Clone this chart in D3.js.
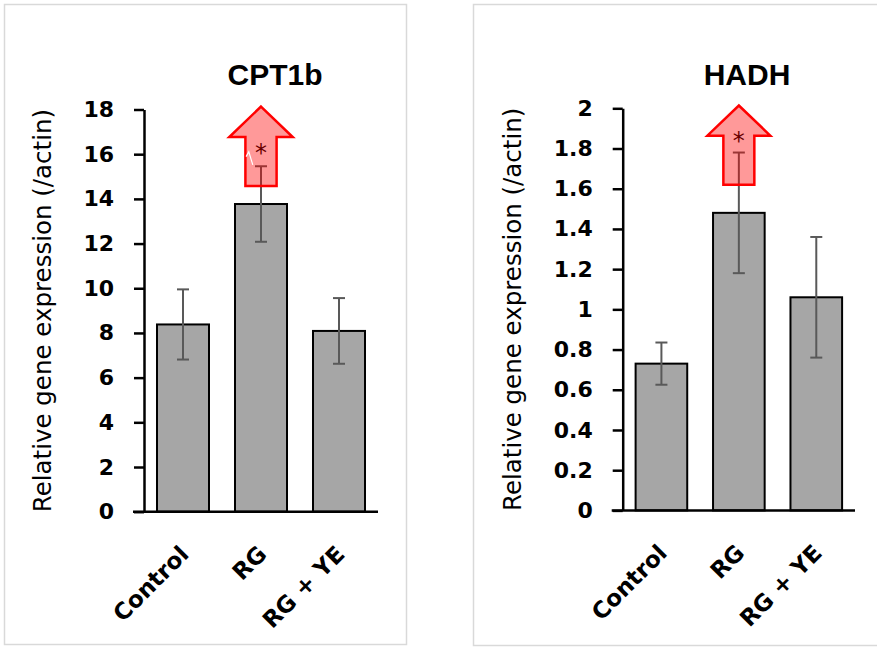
<!DOCTYPE html>
<html>
<head>
<meta charset="utf-8">
<script src="https://cdn.jsdelivr.net/npm/d3@7/dist/d3.min.js"></script>
<style>
  html, body { margin: 0; padding: 0; background: #fff; }
  svg { display: block; }
</style>
</head>
<body>
<svg id="chart" width="877" height="648"></svg>
<script>
// Groups shared by both panels
const categories = ["Control", "RG", "RG + YE"];

// CPT1b: mean relative expression and error (±)
const cpt1bMean = [8.38, 13.77, 8.09];
const cpt1bErr  = [1.57, 1.69, 1.47];
const cpt1bTicks = [0, 2, 4, 6, 8, 10, 12, 14, 16, 18];
const cpt1bTickLabels = ["0", "2", "4", "6", "8", "10", "12", "14", "16", "18"];

// HADH: mean relative expression and error (±)
const hadhMean = [0.73, 1.48, 1.06];
const hadhErr  = [0.105, 0.30, 0.30];
const hadhTicks = [0, 0.2, 0.4, 0.6, 0.8, 1, 1.2, 1.4, 1.6, 1.8, 2];
const hadhTickLabels = ["0", "0.2", "0.4", "0.6", "0.8", "1", "1.2", "1.4", "1.6", "1.8", "2"];

// Up-arrow callouts on the RG group: [tip, head base, tail] in axis units, plus star level
const cpt1bArrow = [18.13, 16.77, 14.58];
const cpt1bStar = 16.27;
const hadhArrow = [2.014, 1.864, 1.62];
const hadhStar = 1.859;

const yLabel = "Relative gene expression (/actin)";

const svg = d3.select("#chart");
svg.append("rect").attr("width", 877).attr("height", 648).attr("fill", "#fff");

// light panel frames
svg.append("rect").attr("x", 4.5).attr("y", 4.5).attr("width", 402).attr("height", 640)
  .attr("fill", "none").attr("stroke", "#d9d9d9").attr("stroke-width", 1.5);
svg.append("rect").attr("x", 473.5).attr("y", 4.5).attr("width", 420).attr("height", 641)
  .attr("fill", "none").attr("stroke", "#d9d9d9").attr("stroke-width", 1.5);

function drawPanel(p) {
  const g = svg.append("g");
  const y = d3.scaleLinear().domain([0, p.max]).range([p.bottom, p.top]);
  const x = d3.scaleBand().domain(categories).range([p.axisX, p.xEnd])
    .paddingInner(1 / 3).paddingOuter(1 / 6);
  const bw = x.bandwidth();
  const cx = c => x(c) + bw / 2;

  // bars
  g.selectAll("rect.bar").data(categories).join("rect")
    .attr("class", "bar")
    .attr("x", c => x(c))
    .attr("width", bw)
    .attr("y", (c, i) => y(p.mean[i]))
    .attr("height", (c, i) => y(0) - y(p.mean[i]))
    .attr("fill", "#a6a6a6")
    .attr("stroke", "#000")
    .attr("stroke-width", 2);

  // error bars
  const eb = g.selectAll("g.err").data(categories).join("g").attr("class", "err")
    .attr("stroke", "#595959").attr("stroke-width", 2);
  eb.append("line")
    .attr("x1", c => cx(c)).attr("x2", c => cx(c))
    .attr("y1", (c, i) => y(p.mean[i] - p.err[i]))
    .attr("y2", (c, i) => y(p.mean[i] + p.err[i]));
  [-1, 1].forEach(s => {
    eb.append("line")
      .attr("x1", c => cx(c) - 6).attr("x2", c => cx(c) + 6)
      .attr("y1", (c, i) => y(p.mean[i] + s * p.err[i]))
      .attr("y2", (c, i) => y(p.mean[i] + s * p.err[i]));
  });

  // significance star (sits under the translucent arrow)
  const ac = cx("RG");
  g.append("text")
    .attr("x", ac).attr("y", y(p.star) + 12.5)
    .attr("text-anchor", "middle")
    .attr("font-family", "DejaVu Sans")
    .attr("font-size", 24)
    .attr("fill", "#000")
    .text("*");

  // translucent up arrow
  const [tip, base, tail] = p.arrow;
  const hw = bw * 0.61, sw = bw * 0.30;
  const pts = [
    [ac, y(tip)], [ac + hw, y(base)], [ac + sw, y(base)], [ac + sw, y(tail)],
    [ac - sw, y(tail)], [ac - sw, y(base)], [ac - hw, y(base)]
  ];
  g.append("path")
    .attr("d", d3.line()(pts) + "Z")
    .attr("fill", "rgba(255,0,0,0.4)")
    .attr("stroke", "#ff0000")
    .attr("stroke-width", 2.5)
    .attr("stroke-linejoin", "miter");

  if (p.glitch) {
    g.append("path")
      .attr("d", d3.line()(p.glitch.map(d => [ac - sw + d[0], y(d[1])])))
      .attr("fill", "none").attr("stroke", "#fff").attr("stroke-width", 1.2);
  }

  // y axis
  const axis = d3.axisLeft(y)
    .tickValues(p.ticks)
    .tickFormat((d, i) => p.tickLabels[i])
    .tickSize(10).tickSizeOuter(0).tickPadding(20);
  const ag = g.append("g").attr("transform", `translate(${p.axisX},0)`).call(axis);
  ag.select(".domain").attr("stroke", "#000").attr("stroke-width", 2.5);
  ag.selectAll(".tick line").attr("stroke", "#000").attr("stroke-width", 2.5);
  ag.selectAll(".tick text")
    .attr("font-family", "DejaVu Sans").attr("font-weight", "bold")
    .attr("font-size", 22).attr("fill", "#000");

  // x axis baseline
  g.append("line")
    .attr("x1", p.axisX - 11).attr("x2", p.xEnd)
    .attr("y1", y(0)).attr("y2", y(0))
    .attr("stroke", "#000").attr("stroke-width", 2.5);

  // category labels
  g.selectAll("text.cat").data(categories).join("text")
    .attr("class", "cat")
    .attr("transform", c => `translate(${cx(c) + 7},${y(0) + 44}) rotate(-45)`)
    .attr("text-anchor", "end")
    .attr("font-family", "DejaVu Sans").attr("font-weight", "bold")
    .attr("font-size", 23).attr("fill", "#000")
    .text(c => c);

  // title
  g.append("text")
    .attr("x", p.titleX).attr("y", 84.5)
    .attr("text-anchor", "middle")
    .attr("font-family", "Liberation Sans").attr("font-weight", "bold")
    .attr("font-size", 30).attr("fill", "#000")
    .text(p.title);

  // y axis label
  g.append("text")
    .attr("transform", `translate(${p.labelX},${(p.top + p.bottom) / 2}) rotate(-90)`)
    .attr("text-anchor", "middle")
    .attr("font-family", "DejaVu Sans")
    .attr("font-size", 24.5).attr("fill", "#000")
    .text(yLabel);
}

drawPanel({
  title: "CPT1b", titleX: 275, max: 18,
  mean: cpt1bMean, err: cpt1bErr,
  ticks: cpt1bTicks, tickLabels: cpt1bTickLabels,
  arrow: cpt1bArrow, star: cpt1bStar,
  glitch: [[0.7, 15.89], [3.4, 16.11], [7.4, 15.52]],
  axisX: 144, xEnd: 378, top: 109.5, bottom: 511.7, labelX: 51
});

drawPanel({
  title: "HADH", titleX: 747, max: 2,
  mean: hadhMean, err: hadhErr,
  ticks: hadhTicks, tickLabels: hadhTickLabels,
  arrow: hadhArrow, star: hadhStar,
  axisX: 622.7, xEnd: 855, top: 108.3, bottom: 510.4, labelX: 521
});
</script>
</body>
</html>
